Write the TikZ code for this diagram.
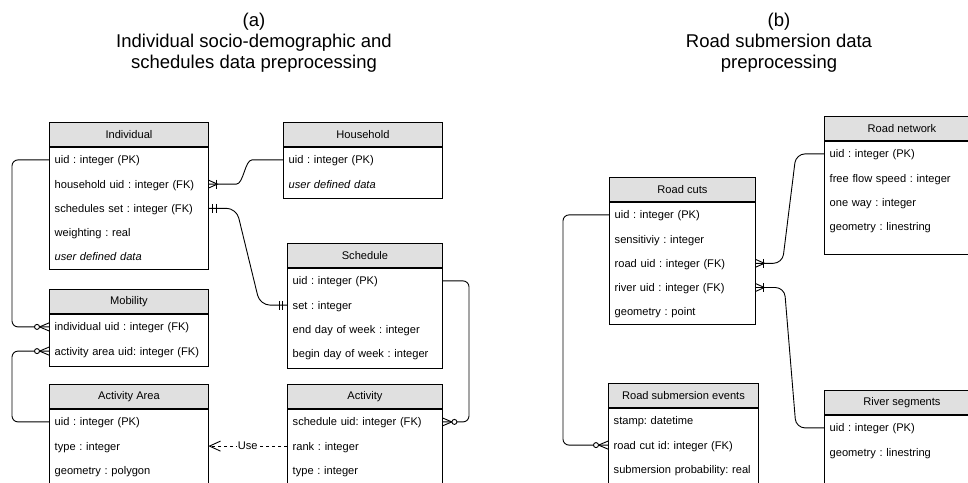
\documentclass[tikz,border=0pt]{standalone}
\usepackage{fontspec}
\setmainfont{Liberation Sans}
\usetikzlibrary{arrows.meta,calc}
\definecolor{hdrgray}{HTML}{E0E0E0}
\frenchspacing
\newcommand\erfont{\fontsize{11.1pt}{13pt}\selectfont}
\newcommand\ttlfont{\fontsize{18.5pt}{21pt}\selectfont}
\newcommand\errow[5]{\node[row=#4] (#1) at ($(#2.north west)+(0,#3)$) {#5};}
\tikzset{
  thead/.style={draw=black, line width=0.9pt, fill=hdrgray, font=\erfont, anchor=north west, minimum height=24pt, inner sep=0pt},
  tbody/.style={draw=black, line width=0.9pt, fill=white, anchor=north, inner sep=0pt},
  row/.style={anchor=west, inner xsep=5.5pt, inner ysep=0pt, text width=#1, align=left, font=\erfont, text height=8pt, text depth=0pt},
  conn/.style={draw=black, line width=0.9pt, rounded corners=6pt},
  mk/.style={draw=black, line width=0.9pt},
  ttl/.style={font=\ttlfont, align=center, anchor=north, inner sep=0pt},
  ulabel/.style={fill=white, font=\erfont, inner xsep=1pt, inner ysep=1pt},
  pics/zmany/.style={code={
    \draw[mk] (0,-4) -- (9.5,0) -- (0,4);
    \draw[mk, fill=white] (12,0) circle (2.5);
  }},
  pics/omany/.style={code={
    \draw[mk] (0,-4) -- (9,0) -- (0,4);
    \draw[mk] (8,-4.5) -- (8,4.5);
  }},
  pics/mone/.style={code={
    \draw[mk] (4.5,-4.5) -- (4.5,4.5);
    \draw[mk] (8,-4.5) -- (8,4.5);
  }},
}
\begin{document}
\begin{tikzpicture}[x=1pt,y=-1pt]
\clip (0,0) rectangle (968,482);
\fill[white] (0,0) rectangle (968,482);

% titles
\node[ttl] (ta) at (254,13) {(a)\\Individual socio-demographic and\\schedules data preprocessing};
\node[ttl] (tb) at (779,13) {(b)\\Road submersion data\\preprocessing};

% Individual
\node[thead, minimum width=159pt] (ind) at (49,122) {Individual};
\node[tbody, minimum width=159pt, minimum height=122pt] (ind-b) at (ind.south) {};
\errow{ind-uid}{ind-b}{13}{148pt}{uid : integer (PK)}
\errow{ind-hh}{ind-b}{37.2}{148pt}{household uid : integer (FK)}
\errow{ind-sch}{ind-b}{61.4}{148pt}{schedules set : integer (FK)}
\errow{ind-w}{ind-b}{85.6}{148pt}{weighting : real}
\errow{ind-u}{ind-b}{109.8}{148pt}{\textit{user defined data}}

% Household
\node[thead, minimum width=159pt] (hh) at (283,122) {Household};
\node[tbody, minimum width=159pt, minimum height=51pt] (hh-b) at (hh.south) {};
\errow{hh-uid}{hh-b}{13}{148pt}{uid : integer (PK)}
\errow{hh-u}{hh-b}{37.2}{148pt}{\textit{user defined data}}

% Schedule
\node[thead, minimum width=155pt] (sch) at (287,243) {Schedule};
\node[tbody, minimum width=155pt, minimum height=100pt] (sch-b) at (sch.south) {};
\errow{sch-uid}{sch-b}{13}{144pt}{uid : integer (PK)}
\errow{sch-set}{sch-b}{37.2}{144pt}{set : integer}
\errow{sch-end}{sch-b}{61.4}{144pt}{end day of week : integer}
\errow{sch-beg}{sch-b}{85.6}{144pt}{begin day of week : integer}

% Mobility
\node[thead, minimum width=159pt] (mob) at (49,289) {Mobility};
\node[tbody, minimum width=159pt, minimum height=52pt] (mob-b) at (mob.south) {};
\errow{mob-ind}{mob-b}{13}{148pt}{individual uid : integer (FK)}
\errow{mob-aa}{mob-b}{37.2}{148pt}{activity area uid: integer (FK)}

% Activity Area
\node[thead, minimum width=159pt] (aa) at (49,384) {Activity Area};
\node[tbody, minimum width=159pt, minimum height=120pt] (aa-b) at (aa.south) {};
\errow{aa-uid}{aa-b}{13}{148pt}{uid : integer (PK)}
\errow{aa-type}{aa-b}{37.2}{148pt}{type : integer}
\errow{aa-geom}{aa-b}{61.4}{148pt}{geometry : polygon}

% Activity
\node[thead, minimum width=155pt] (act) at (287,384) {Activity};
\node[tbody, minimum width=155pt, minimum height=120pt] (act-b) at (act.south) {};
\errow{act-sch}{act-b}{13}{144pt}{schedule uid: integer (FK)}
\errow{act-rank}{act-b}{37.2}{144pt}{rank : integer}
\errow{act-type}{act-b}{61.4}{144pt}{type : integer}

% Road cuts
\node[thead, minimum width=146pt] (rc) at (609,177) {Road cuts};
\node[tbody, minimum width=146pt, minimum height=122pt] (rc-b) at (rc.south) {};
\errow{rc-uid}{rc-b}{13}{135pt}{uid : integer (PK)}
\errow{rc-sens}{rc-b}{37.2}{135pt}{sensitiviy : integer}
\errow{rc-road}{rc-b}{61.4}{135pt}{road uid : integer (FK)}
\errow{rc-river}{rc-b}{85.6}{135pt}{river uid : integer (FK)}
\errow{rc-geom}{rc-b}{109.8}{135pt}{geometry : point}

% Road submersion events
\node[thead, minimum width=150pt] (ev) at (608,383) {Road submersion events};
\node[tbody, minimum width=150pt, minimum height=120pt] (ev-b) at (ev.south) {};
\errow{ev-stamp}{ev-b}{13}{139pt}{stamp: datetime}
\errow{ev-rc}{ev-b}{37.2}{139pt}{road cut id: integer (FK)}
\errow{ev-prob}{ev-b}{61.4}{139pt}{submersion probability: real}

% Road network
\node[thead, minimum width=155pt] (rn) at (824,116) {Road network};
\node[tbody, minimum width=155pt, minimum height=113pt] (rn-b) at (rn.south) {};
\errow{rn-uid}{rn-b}{13}{144pt}{uid : integer (PK)}
\errow{rn-ffs}{rn-b}{37.2}{144pt}{free flow speed : integer}
\errow{rn-ow}{rn-b}{61.4}{144pt}{one way : integer}
\errow{rn-geom}{rn-b}{85.6}{144pt}{geometry : linestring}

% River segments
\node[thead, minimum width=155pt] (rs) at (824,390) {River segments};
\node[tbody, minimum width=155pt, minimum height=120pt] (rs-b) at (rs.south) {};
\errow{rs-uid}{rs-b}{13}{144pt}{uid : integer (PK)}
\errow{rs-geom}{rs-b}{37.2}{144pt}{geometry : linestring}

% bus coordinates
\coordinate (xa) at (12,0);
\coordinate (xb) at (469,0);
\coordinate (xc) at (563,0);

% connectors
\draw[conn] (ind-uid.west) -| (xa |- mob-ind.west) -- (mob-ind.west);
\draw[conn] (mob-aa.west) -| (xa |- aa-uid.west) -- (aa-uid.west);
\draw[conn] (sch-uid.east) -| (xb |- act-sch.east) -- (act-sch.east);
\draw[conn] (rc-uid.west) -| (xc |- ev-rc.west) -- (ev-rc.west);
\draw[conn] (hh-uid.west) -- ++(-25,0) .. controls +(-13,0) and +(13,0) .. ($(ind-hh.east)+(22,0)$) -- (ind-hh.east);
\draw[conn, rounded corners=10pt] (ind-sch.east) -- ($(ind-sch.east)+(28,0)$) -- ($(sch-set.west)+(-27,0)$) -- (sch-set.west);
\draw[conn, rounded corners=9pt] (rc-road.east) -- ($(rc-road.east)+(27,0)$) -- ($(rn-uid.west)+(-28,0)$) -- (rn-uid.west);
\draw[conn, rounded corners=9pt] (rc-river.east) -- ($(rc-river.east)+(29,0)$) -- ($(rs-uid.west)+(-28,0)$) -- (rs-uid.west);
\draw[line width=0.9pt, dash pattern=on 3pt off 3pt, -{Straight Barb[length=11pt,width=10pt,line width=0.9pt]}] (act-rank.west) -- node[ulabel] (use) {Use} (aa-type.east);

% markers
\pic[rotate=180] at (mob-ind.west) {zmany};
\pic[rotate=180] at (mob-aa.west) {zmany};
\pic at (act-sch.east) {zmany};
\pic[rotate=180] at (ev-rc.west) {zmany};
\pic at (ind-hh.east) {omany};
\pic at (rc-road.east) {omany};
\pic at (rc-river.east) {omany};
\pic at (ind-sch.east) {mone};
\pic[rotate=180] at (sch-set.west) {mone};
\end{tikzpicture}
\end{document}
